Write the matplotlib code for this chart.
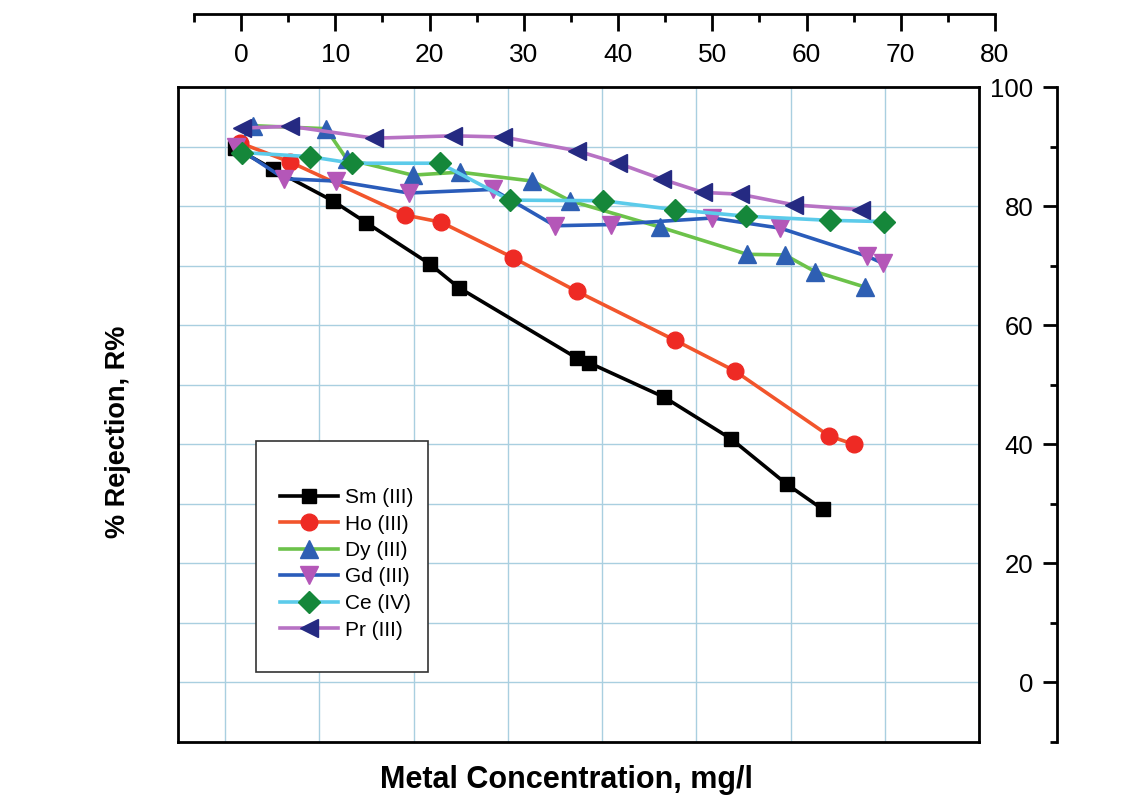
import numpy as np
import matplotlib
matplotlib.use("Agg")
import matplotlib.pyplot as plt
from matplotlib.patches import Rectangle
from matplotlib.ticker import MultipleLocator

plt.rcParams['font.family'] = ['Liberation Sans', 'DejaVu Sans']

# datos (x en mg/l, y en %)
sm_x = [1.0, 5.1, 11.4, 15.0, 21.7, 24.8, 37.3, 38.6, 46.6, 53.7, 59.6, 63.4]
sm_y = [89.8, 86.2, 80.9, 77.2, 70.3, 66.3, 54.5, 53.7, 47.9, 40.9, 33.3, 29.1]

ho_x = [1.6, 6.9, 19.1, 22.9, 30.6, 37.3, 47.7, 54.1, 64.1, 66.7]
ho_y = [90.6, 87.4, 78.5, 77.3, 71.3, 65.7, 57.5, 52.3, 41.4, 40.0]

dy_x = [3.0, 10.7, 12.9, 19.9, 24.9, 32.6, 36.6, 46.1, 55.4, 59.4, 62.6, 67.9]
dy_y = [93.5, 93.0, 87.9, 85.2, 85.7, 84.2, 80.9, 76.5, 71.9, 71.8, 69.0, 66.4]

gd_x = [1.2, 6.3, 11.8, 19.5, 28.4, 35.0, 40.9, 51.7, 58.9, 68.1, 69.8]
gd_y = [89.9, 84.6, 84.2, 82.2, 82.8, 76.7, 76.9, 78.0, 76.3, 71.6, 70.4]

ce_x = [1.8, 9.0, 13.5, 22.8, 30.2, 40.1, 47.7, 55.3, 64.2, 69.9]
ce_y = [89.0, 88.3, 87.2, 87.2, 81.0, 80.9, 79.4, 78.3, 77.6, 77.4]

pr_x = [1.8, 6.9, 15.8, 24.2, 29.5, 37.3, 41.7, 46.4, 50.7, 54.6, 60.4, 67.5]
pr_y = [93.1, 93.4, 91.4, 91.8, 91.6, 89.3, 87.2, 84.5, 82.3, 82.0, 80.2, 79.4]

top_ticks = np.arange(0, 81, 10)
right_ticks = np.arange(0, 101, 20)

W, H = 1143, 795
fig = plt.figure(figsize=(W / 100, H / 100), dpi=100)

# caja principal
ax = fig.add_axes([178 / W, 1 - 742 / H, (979 - 178) / W, (742 - 87) / H])
ax.set_xlim(-5, 80)
ax.set_ylim(-10, 100)
ax.set_xticks(np.arange(0, 81, 10))
ax.set_yticks(np.arange(0, 91, 10))
ax.tick_params(length=0, labelbottom=False, labelleft=False)
ax.grid(True, color='#a9cfe0', linewidth=1.0)
for s in ax.spines.values():
    s.set_linewidth(2)
    s.set_color('black')

series = [
    ('Sm (III)', sm_x, sm_y, 'black', 's', 'black', 10.5),
    ('Ho (III)', ho_x, ho_y, '#f2552c', 'o', '#ee2a24', 12),
    ('Dy (III)', dy_x, dy_y, '#6cc24a', '^', '#2e5fb3', 13),
    ('Gd (III)', gd_x, gd_y, '#2a5cba', 'v', '#b457b8', 13),
    ('Ce (IV)', ce_x, ce_y, '#5ccbea', 'D', '#15873a', 11),
    ('Pr (III)', pr_x, pr_y, '#b772c4', '<', '#252a82', 13),
]
for name, xs, ys, lc, mk, mc, ms in series:
    ax.plot(xs, ys, color=lc, linewidth=2.6, marker=mk, markersize=ms,
            markerfacecolor=mc, markeredgecolor=mc, label=name, zorder=3)

# recuadro de la leyenda
ax.add_patch(Rectangle((256 / W, 1 - 672 / H), (428 - 256) / W, (672 - 441) / H,
                       transform=fig.transFigure, facecolor='white',
                       edgecolor='#333333', linewidth=1.2, zorder=4))
leg = ax.legend(loc='upper left', bbox_to_anchor=(280 / W, 1 - 488 / H),
                bbox_transform=fig.transFigure, frameon=False, fontsize=15,
                handlelength=2.8, handletextpad=0.3, labelspacing=0.36,
                borderpad=0, borderaxespad=0)
leg.set_zorder(5)

# eje superior
ax_t = fig.add_axes([194 / W, 1 - 14 / H, (995 - 194) / W, 0.0001])
ax_t.set_xlim(-5, 80)
ax_t.set_xticks(top_ticks)
ax_t.xaxis.set_minor_locator(MultipleLocator(5))
ax_t.tick_params(axis='x', which='major', length=12, width=2, labelsize=19, pad=9)
ax_t.tick_params(axis='x', which='minor', length=6, width=2)
ax_t.set_yticks([])
for k in ['top', 'left', 'right']:
    ax_t.spines[k].set_visible(False)
ax_t.spines['bottom'].set_linewidth(2)
ax_t.patch.set_visible(False)

# eje derecho
ax_r = fig.add_axes([1057 / W, 1 - 742 / H, 0.0001, (742 - 87) / H])
ax_r.set_ylim(-10, 100)
ax_r.set_yticks(right_ticks)
ax_r.yaxis.set_minor_locator(MultipleLocator(10))
ax_r.tick_params(axis='y', which='major', length=10, width=2, labelsize=18.5, pad=7)
ax_r.tick_params(axis='y', which='minor', length=5, width=2)
ax_r.set_xticks([])
for k in ['top', 'bottom', 'right']:
    ax_r.spines[k].set_visible(False)
ax_r.spines['left'].set_linewidth(2)
ax_r.patch.set_visible(False)

fig.text(118 / W, 1 - 432 / H, '% Rejection, R%', rotation=90, fontsize=19.5,
         fontweight='bold', ha='center', va='center')
fig.text(566 / W, 1 - 780 / H, 'Metal Concentration, mg/l', fontsize=22,
         fontweight='bold', ha='center', va='center')

fig.savefig('out.png', dpi=100)
